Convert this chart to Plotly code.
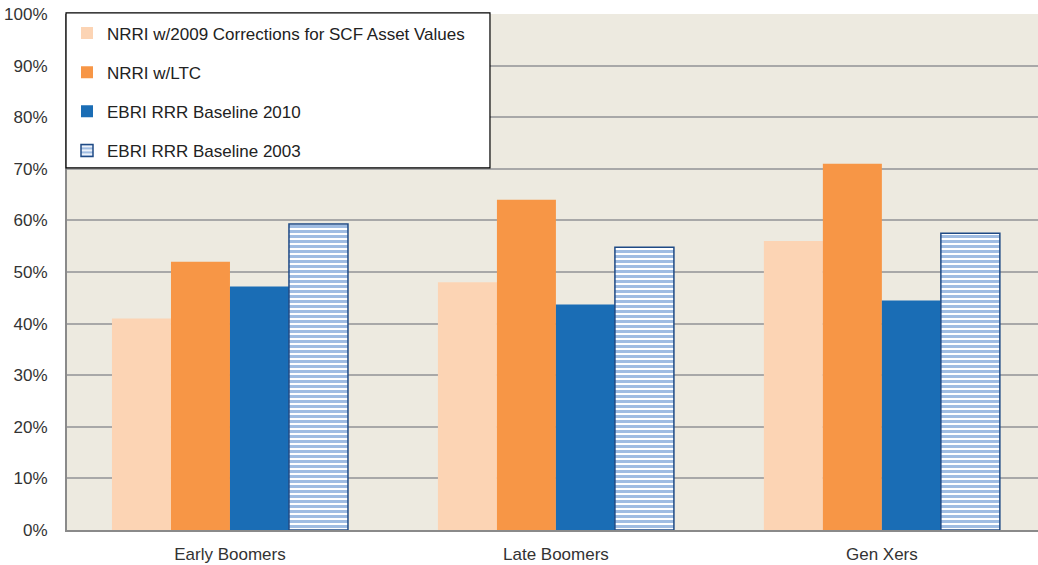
import plotly.graph_objects as go

categories = ["Early Boomers", "Late Boomers", "Gen Xers"]
series_names = [
    "NRRI w/2009 Corrections for SCF Asset Values",
    "NRRI w/LTC",
    "EBRI RRR Baseline 2010",
    "EBRI RRR Baseline 2003",
]
nrri_2009 = [41, 48, 56]
nrri_ltc = [52, 64, 71]
ebri_2010 = [47.2, 43.7, 44.5]
ebri_2003 = [59.3, 54.8, 57.5]

fig = go.Figure()
fig.add_bar(name=series_names[0], x=categories, y=nrri_2009,
            marker=dict(color="#FCD4B4", line=dict(width=0)), legendgroup="a")
fig.add_bar(name=series_names[1], x=categories, y=nrri_ltc,
            marker=dict(color="#F79646", line=dict(width=0)), legendgroup="b")
fig.add_bar(name=series_names[2], x=categories, y=ebri_2010,
            marker=dict(color="#1A6DB5", line=dict(width=0)), legendgroup="c")
fig.add_bar(name=series_names[3], x=categories, y=ebri_2003,
            marker=dict(color="white",
                        pattern=dict(shape="-", fgcolor="#4079C6", bgcolor="white",
                                     size=5, solidity=0.6),
                        line=dict(color="#1F4A85", width=1.5)),
            legendgroup="d")

# legend frame
fig.add_shape(type="rect", xref="paper", yref="paper",
              x0=-0.001, x1=0.4356, y0=0.7016, y1=1.002,
              fillcolor="white", line=dict(color="black", width=1.2), layer="above")

fig.update_layout(
    width=1038, height=565,
    margin=dict(l=67, r=0, t=14, b=35),
    paper_bgcolor="white",
    plot_bgcolor="#EDEAE0",
    barmode="group",
    bargap=0.276,
    bargroupgap=0,
    font=dict(family="Liberation Sans, Arial, sans-serif", size=17, color="#333333"),
    showlegend=True,
    legend=dict(x=0.0, y=0.997, xanchor="left", yanchor="top",
                bgcolor="rgba(0,0,0,0)", borderwidth=0,
                traceorder="grouped", tracegroupgap=14,
                font=dict(size=17, color="#222222")),
    xaxis=dict(range=[-0.5, 2.479], showgrid=False, showline=True,
               linecolor="#8A8A8A", linewidth=2, ticks="", tickfont=dict(size=17),
               ticklabelstandoff=8),
    yaxis=dict(range=[0, 100], dtick=10, ticksuffix="%", showgrid=True,
               gridcolor="#A8A8A8", gridwidth=1.5, showline=True,
               linecolor="#8A8A8A", linewidth=2, ticks="", zeroline=False,
               tickfont=dict(size=17), ticklabelstandoff=14),
)

fig.write_html("out.html")
